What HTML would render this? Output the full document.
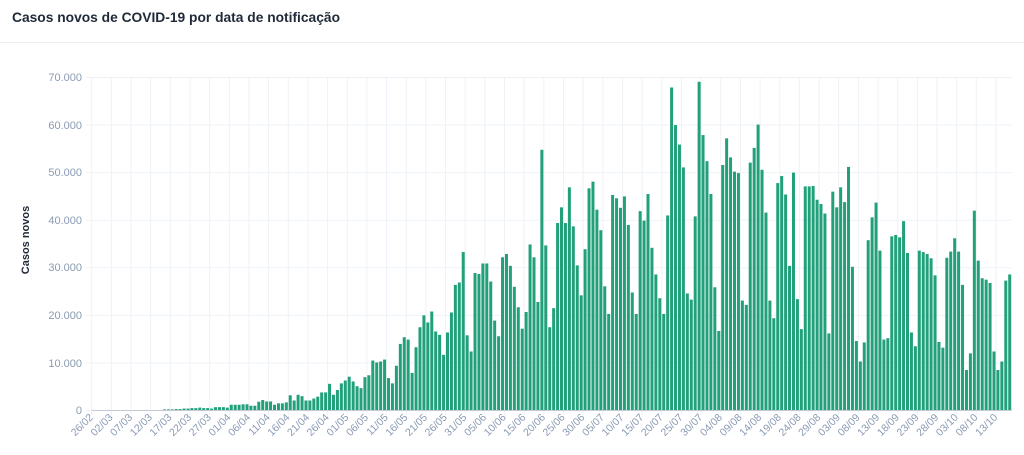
<!DOCTYPE html>
<html><head><meta charset="utf-8"><style>
html,body{margin:0;padding:0;background:#fff;width:1024px;height:455px;overflow:hidden}
svg{display:block;font-family:"Liberation Sans",sans-serif}
</style></head><body>
<svg id="c" width="1024" height="455" viewBox="0 0 1024 455" xmlns="http://www.w3.org/2000/svg">
<text x="12" y="22" font-size="14" font-weight="bold" fill="#1f2937" textLength="328" lengthAdjust="spacingAndGlyphs">Casos novos de COVID-19 por data de notificação</text>
<line x1="0" y1="42.5" x2="1024" y2="42.5" stroke="#edf1f6" stroke-width="1"/>
<g id="grid" stroke="#eef2f7" stroke-width="1"></g>
<g font-size="11" fill="#8a9ab3" text-anchor="end">
<text x="82" y="81">70.000</text>
<text x="82" y="129">60.000</text>
<text x="82" y="176">50.000</text>
<text x="82" y="224">40.000</text>
<text x="82" y="271">30.000</text>
<text x="82" y="319">20.000</text>
<text x="82" y="367">10.000</text>
<text x="82" y="414">0</text>
</g>
<text transform="translate(29,240) rotate(-90)" font-size="11" font-weight="bold" fill="#1f2937" text-anchor="middle">Casos novos</text>
<g id="bars" fill="#21a07a"></g>
<line x1="91.7" y1="410.5" x2="1011.7" y2="410.5" stroke="#c3cad6" stroke-width="1"/>
<g id="xl" font-size="10.5" fill="#8a9ab3" text-anchor="end">
<text transform="translate(93.7,418) rotate(-45)">26/02</text>
<text transform="translate(113.4,418) rotate(-45)">02/03</text>
<text transform="translate(133.0,418) rotate(-45)">07/03</text>
<text transform="translate(152.7,418) rotate(-45)">12/03</text>
<text transform="translate(172.3,418) rotate(-45)">17/03</text>
<text transform="translate(192.0,418) rotate(-45)">22/03</text>
<text transform="translate(211.7,418) rotate(-45)">27/03</text>
<text transform="translate(231.3,418) rotate(-45)">01/04</text>
<text transform="translate(251.0,418) rotate(-45)">06/04</text>
<text transform="translate(270.6,418) rotate(-45)">11/04</text>
<text transform="translate(290.3,418) rotate(-45)">16/04</text>
<text transform="translate(310.0,418) rotate(-45)">21/04</text>
<text transform="translate(329.6,418) rotate(-45)">26/04</text>
<text transform="translate(349.3,418) rotate(-45)">01/05</text>
<text transform="translate(368.9,418) rotate(-45)">06/05</text>
<text transform="translate(388.6,418) rotate(-45)">11/05</text>
<text transform="translate(408.3,418) rotate(-45)">16/05</text>
<text transform="translate(427.9,418) rotate(-45)">21/05</text>
<text transform="translate(447.6,418) rotate(-45)">26/05</text>
<text transform="translate(467.2,418) rotate(-45)">31/05</text>
<text transform="translate(486.9,418) rotate(-45)">05/06</text>
<text transform="translate(506.6,418) rotate(-45)">10/06</text>
<text transform="translate(526.2,418) rotate(-45)">15/06</text>
<text transform="translate(545.9,418) rotate(-45)">20/06</text>
<text transform="translate(565.5,418) rotate(-45)">25/06</text>
<text transform="translate(585.2,418) rotate(-45)">30/06</text>
<text transform="translate(604.9,418) rotate(-45)">05/07</text>
<text transform="translate(624.5,418) rotate(-45)">10/07</text>
<text transform="translate(644.2,418) rotate(-45)">15/07</text>
<text transform="translate(663.8,418) rotate(-45)">20/07</text>
<text transform="translate(683.5,418) rotate(-45)">25/07</text>
<text transform="translate(703.2,418) rotate(-45)">30/07</text>
<text transform="translate(722.8,418) rotate(-45)">04/08</text>
<text transform="translate(742.5,418) rotate(-45)">09/08</text>
<text transform="translate(762.1,418) rotate(-45)">14/08</text>
<text transform="translate(781.8,418) rotate(-45)">19/08</text>
<text transform="translate(801.5,418) rotate(-45)">24/08</text>
<text transform="translate(821.1,418) rotate(-45)">29/08</text>
<text transform="translate(840.8,418) rotate(-45)">03/09</text>
<text transform="translate(860.4,418) rotate(-45)">08/09</text>
<text transform="translate(880.1,418) rotate(-45)">13/09</text>
<text transform="translate(899.8,418) rotate(-45)">18/09</text>
<text transform="translate(919.4,418) rotate(-45)">23/09</text>
<text transform="translate(939.1,418) rotate(-45)">28/09</text>
<text transform="translate(958.7,418) rotate(-45)">03/10</text>
<text transform="translate(978.4,418) rotate(-45)">08/10</text>
<text transform="translate(998.1,418) rotate(-45)">13/10</text>
</g>
</svg>
<script>
var d=[0,0,0,0,0,0,0,0,0,0,0,0,0,0,0,0,0,0,0.05,0.05,
0.1,0.2,0.2,0.3,0.3,0.4,0.4,0.5,0.4,0.4,0.3,0.6,0.6,0.6,0.5,
1.1,1.1,1.1,1.2,1.2,0.9,0.9,1.75,2.1,1.8,1.8,1.1,1.4,1.4,1.6,3.1,2.0,3.2,2.9,2.0,2.0,2.4,2.8,3.7,3.7,5.5,3.2,4.2,5.6,6.2,
7.0,6.0,5.0,4.6,6.9,7.3,10.4,10.0,10.2,10.6,6.7,5.6,9.3,
13.9,15.3,14.8,7.8,13.2,17.4,19.9,18.4,20.7,16.5,15.8,11.6,16.3,20.5,26.3,26.8,33.2,15.7,12.3,28.8,28.6,30.8,30.8,27.0,18.8,15.5,32.1,32.8,30.3,25.9,21.6,17.1,20.6,34.8,32.1,22.7,54.7,34.6,17.4,21.4,39.3,42.6,39.3,46.8,38.6,30.4,24.1,33.8,46.6,48.0,42.1,
37.8,26.0,20.2,45.2,44.5,42.5,44.9,38.9,24.7,20.2,41.8,39.8,45.4,34.1,28.5,23.5,20.2,40.9,67.8,59.9,55.8,51.0,24.5,23.2,40.7,69.0,57.8,52.3,45.4,25.8,16.6,51.5,57.1,53.1,50.1,49.8,23.0,22.1,52.0,55.1,60.0,50.5,41.5,23.0,19.3,47.7,49.2,45.3,30.3,49.9,23.3,17.0,47.0,
47.0,47.1,44.2,43.3,41.3,16.1,45.9,42.6,46.8,43.7,51.1,30.1,14.5,10.2,14.2,35.7,40.5,43.6,33.5,14.8,15.1,36.5,36.8,36.3,39.7,33.0,16.3,13.4,33.5,33.2,32.8,31.9,28.3,14.3,13.1,32.0,33.3,36.1,33.3,26.3,8.4,11.9,41.9,31.4,27.7,27.4,26.7,12.3,8.4,10.2,27.2,28.5];
var NS="http://www.w3.org/2000/svg",b=document.getElementById("bars"),g=document.getElementById("grid");
var band=920/234,x0=91.7,y0=410,k=333/70;
for(var i=0;i<d.length;i++){var h=d[i]*k;if(h<=0)continue;if(h<0.6)h=0.6;
var r=document.createElementNS(NS,"rect");r.setAttribute("x",(x0+i*band+0.45).toFixed(2));r.setAttribute("width","3.0");
r.setAttribute("y",(y0-h).toFixed(2));r.setAttribute("height",h.toFixed(2));b.appendChild(r);}
for(var j=0;j<=7;j++){var y=(y0-j*10*k)+0.5;var l=document.createElementNS(NS,"line");
l.setAttribute("x1",86);l.setAttribute("x2",1011.7);l.setAttribute("y1",y);l.setAttribute("y2",y);g.appendChild(l);}
for(var t=0;t<=46;t++){var x=x0+t*5*band;var l=document.createElementNS(NS,"line");
l.setAttribute("x1",x);l.setAttribute("x2",x);l.setAttribute("y1",77);l.setAttribute("y2",415);g.appendChild(l);}
</script>
</body></html>
